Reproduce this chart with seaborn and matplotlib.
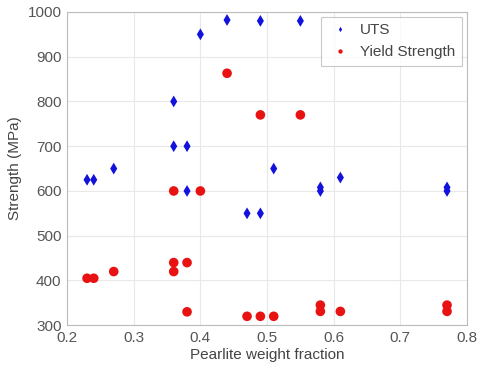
import numpy as np
import pandas as pd
import matplotlib
matplotlib.use("Agg")
import matplotlib.pyplot as plt
import seaborn as sns

uts_x = [0.23, 0.24, 0.27, 0.36, 0.36, 0.38, 0.38, 0.40, 0.44, 0.49, 0.55,
         0.47, 0.49, 0.51, 0.58, 0.58, 0.61, 0.77, 0.77]
uts_y = [625, 625, 650, 800, 700, 700, 600, 950, 982, 980, 980,
         550, 550, 650, 600, 608, 630, 600, 608]

ys_x = [0.23, 0.24, 0.27, 0.36, 0.40, 0.44, 0.49, 0.55, 0.36, 0.36, 0.38,
        0.38, 0.47, 0.49, 0.51, 0.58, 0.58, 0.61, 0.77, 0.77]
ys_y = [405, 405, 420, 600, 600, 863, 770, 770, 440, 420, 440,
        330, 320, 320, 320, 345, 331, 331, 345, 331]

series = ["UTS", "Yield Strength"]
x_ticks = [0.2, 0.3, 0.4, 0.5, 0.6, 0.7, 0.8]
y_ticks = [300, 400, 500, 600, 700, 800, 900, 1000]

df = pd.DataFrame({
    "x": uts_x + ys_x,
    "y": uts_y + ys_y,
    "series": [series[0]] * len(uts_x) + [series[1]] * len(ys_x),
})

sns.set_style("whitegrid")
plt.rcParams["font.family"] = ["Liberation Sans", "DejaVu Sans"]

fig = plt.figure(figsize=(4.79, 3.73), dpi=100)
ax = fig.add_axes([0.14, 0.128, 0.835, 0.84])

sns.scatterplot(data=df, x="x", y="y", hue="series", style="series",
                size="series",
                palette={"UTS": "#1212dc", "Yield Strength": "#e81212"},
                markers={"UTS": "d", "Yield Strength": "o"},
                sizes={"UTS": 36, "Yield Strength": 48},
                edgecolor="none", ax=ax, legend=True)

ax.set_xlim(0.2, 0.8)
ax.set_ylim(300, 1000)
ax.set_xticks(x_ticks)
ax.set_yticks(y_ticks)
ax.set_xticklabels([f"{t:.1f}" for t in x_ticks])
ax.grid(True, color="#e8e8e8", linewidth=0.8)
for s in ax.spines.values():
    s.set_color("#bbbbbb")
    s.set_linewidth(0.8)
ax.tick_params(axis="both", colors="#555555", labelsize=11, length=0, pad=4)
ax.set_xlabel("Pearlite weight fraction", fontsize=11, color="#444444", labelpad=2)
ax.set_ylabel("Strength (MPa)", fontsize=11, color="#444444", labelpad=4)

handles, labels = ax.get_legend_handles_labels()
leg = ax.legend(handles, labels, loc="upper right", fontsize=11, frameon=True,
                fancybox=False, edgecolor="#bbbbbb", borderaxespad=0.3,
                handletextpad=0.5, handlelength=1.6, borderpad=0.45,
                markerscale=0.45)
leg.get_frame().set_linewidth(0.8)
for t in leg.get_texts():
    t.set_color("#444444")

fig.savefig("out.png", dpi=100)
